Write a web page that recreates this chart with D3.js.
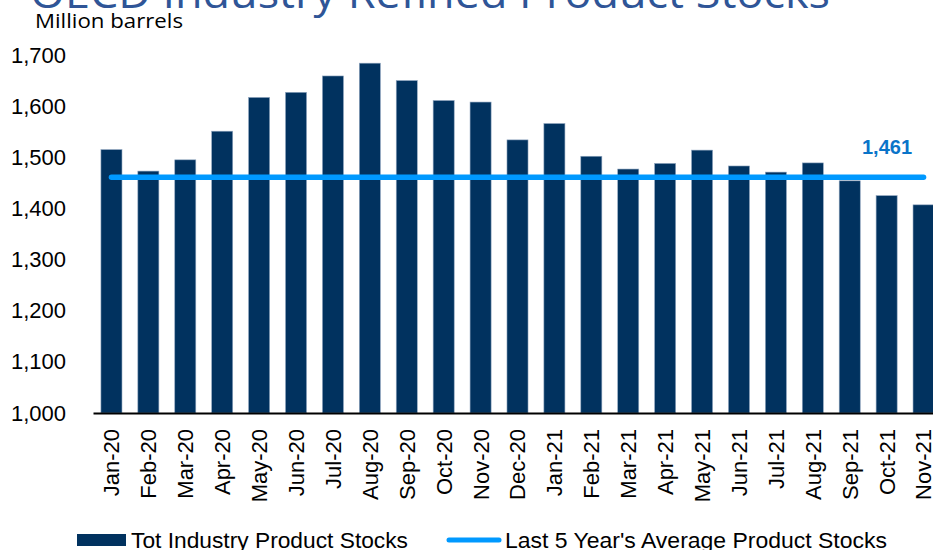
<!DOCTYPE html>
<html>
<head>
<meta charset="utf-8">
<script src="https://cdn.jsdelivr.net/npm/d3@7"></script>
<style>
  html, body { margin: 0; padding: 0; background: #fff; }
  svg { display: block; }
</style>
</head>
<body>
<svg id="chart" width="933" height="550"></svg>
<script>
const categories = ["Jan-20","Feb-20","Mar-20","Apr-20","May-20","Jun-20","Jul-20","Aug-20","Sep-20","Oct-20","Nov-20","Dec-20",
                    "Jan-21","Feb-21","Mar-21","Apr-21","May-21","Jun-21","Jul-21","Aug-21","Sep-21","Oct-21","Nov-21"];
const stocks = [1515,1473,1495,1551,1617,1627,1659,1684,1650,1611,1608,1534,
                1566,1502,1477,1488,1514,1483,1471,1489,1454,1425,1407];
const avg5yr = [1461,1461,1461,1461,1461,1461,1461,1461,1461,1461,1461,1461,
                1461,1461,1461,1461,1461,1461,1461,1461,1461,1461,1461];
const yTicks = [1000,1100,1200,1300,1400,1500,1600,1700];
const avgLabel = "1,461";
const seriesNames = ["Tot Industry Product Stocks", "Last 5 Year's Average Product Stocks"];
const titleText = "OECD Industry Refined Product Stocks";
const unitText = "Million barrels";

const svg = d3.select("#chart");
const barColor = "#01325f";
const lineColor = "#0099ff";

const x = d3.scaleBand().domain(categories).range([93, 942]).paddingInner(0.43).paddingOuter(0.215);
const y = d3.scaleLinear().domain([1000, 1700]).range([413, 55]);

// Title (partially cut off at top)
svg.append("text")
  .attr("x", 30).attr("y", 8)
  .attr("font-family", "'Open Sans', 'Noto Sans', sans-serif")
  .attr("font-size", 42)
  .attr("fill", "#2f5597")
  .attr("textLength", 800).attr("lengthAdjust", "spacingAndGlyphs")
  .text(titleText);

svg.append("text")
  .attr("x", 35).attr("y", 27.5)
  .attr("font-family", "'Open Sans', 'Noto Sans', sans-serif")
  .attr("font-size", 20)
  .attr("fill", "#000")
  .attr("textLength", 148).attr("lengthAdjust", "spacingAndGlyphs")
  .text(unitText);

// Y axis
const yAxis = svg.append("g")
  .attr("transform", "translate(93,0)")
  .call(d3.axisLeft(y).tickValues(yTicks).tickSize(0).tickPadding(27).tickFormat(d3.format(",")));
yAxis.select(".domain").remove();
yAxis.selectAll("text")
  .attr("font-family", "Arial, 'Liberation Sans', sans-serif")
  .attr("font-size", 22)
  .attr("fill", "#000");

// Bars
svg.append("g").selectAll("rect")
  .data(categories)
  .join("rect")
  .attr("x", d => x(d))
  .attr("width", x.bandwidth())
  .attr("y", (d, i) => y(stocks[i]))
  .attr("height", (d, i) => y(1000) - y(stocks[i]))
  .attr("fill", barColor)
  .attr("stroke", "#8fa5bf")
  .attr("stroke-width", 0.6);

// X axis
const xAxis = svg.append("g")
  .attr("transform", `translate(0,${y(1000)})`)
  .call(d3.axisBottom(x).tickSize(0));
xAxis.select(".domain").attr("stroke", "#000").attr("stroke-width", 2.2);
xAxis.selectAll("text")
  .attr("font-family", "Arial, 'Liberation Sans', sans-serif")
  .attr("font-size", 22)
  .attr("fill", "#000")
  .attr("text-anchor", "end")
  .attr("x", 0).attr("y", 0)
  .attr("dy", "0.36em")
  .attr("transform", "translate(0,16) rotate(-90)");

// 5-year average line
const line = d3.line()
  .x((d, i) => x(categories[i]) + x.bandwidth() / 2)
  .y(d => y(d));
svg.append("path")
  .datum(avg5yr)
  .attr("d", line)
  .attr("fill", "none")
  .attr("stroke", lineColor)
  .attr("stroke-width", 5.5)
  .attr("stroke-linecap", "round");

svg.append("text")
  .attr("x", 887).attr("y", 154.3)
  .attr("text-anchor", "middle")
  .attr("font-family", "Arial, 'Liberation Sans', sans-serif")
  .attr("font-weight", "bold")
  .attr("font-size", 20)
  .attr("fill", "#0a74c9")
  .text(avgLabel);

// Legend
const lg = svg.append("g");
lg.append("rect").attr("x", 77).attr("y", 534).attr("width", 49).attr("height", 12).attr("fill", barColor);
lg.append("text")
  .attr("x", 131).attr("y", 547.7)
  .attr("font-family", "Arial, 'Liberation Sans', sans-serif")
  .attr("font-size", 22).attr("fill", "#000")
  .attr("textLength", 277).attr("lengthAdjust", "spacingAndGlyphs")
  .text(seriesNames[0]);
lg.append("line").attr("x1", 449).attr("x2", 499).attr("y1", 540).attr("y2", 540)
  .attr("stroke", lineColor).attr("stroke-width", 5).attr("stroke-linecap", "round");
lg.append("text")
  .attr("x", 505).attr("y", 547.7)
  .attr("font-family", "Arial, 'Liberation Sans', sans-serif")
  .attr("font-size", 22).attr("fill", "#000")
  .attr("textLength", 382).attr("lengthAdjust", "spacingAndGlyphs")
  .text(seriesNames[1]);
</script>
</body>
</html>
